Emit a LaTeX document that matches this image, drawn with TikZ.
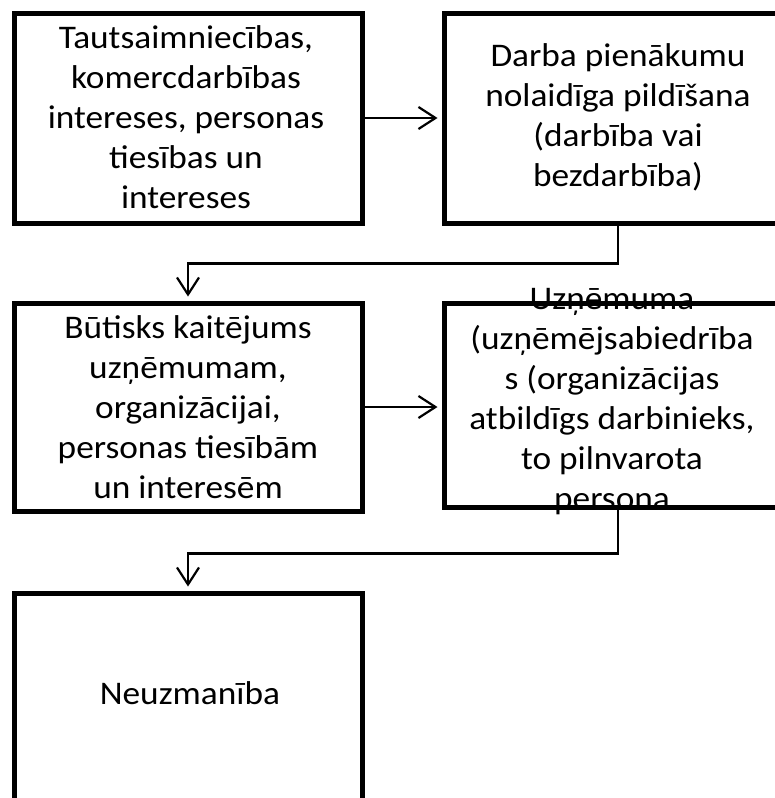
\documentclass[tikz,border=0pt]{standalone}
\usepackage{fontspec}
\setmainfont{Carlito}[FakeStretch=1.07]
\usetikzlibrary{arrows.meta}
\begin{document}
\begin{tikzpicture}[x=1pt,y=-1pt,
 box/.style={draw,line width=5pt,minimum width=348pt,minimum height=210pt,inner sep=0pt},
 txt/.style={align=center,font=\fontsize{33}{40}\selectfont,inner sep=0pt},
 conn/.style={line width=2.2pt,-{Straight Barb[length=17pt,width=22pt,line width=2.2pt]},shorten >=4pt}]
\useasboundingbox (0,0) rectangle (775,798);
\clip (0,0) rectangle (775,798);
\fill[white] (0,0) rectangle (775,798);
\node[box] (A) at (188,118) {};
\node[box] (B) at (618,118) {};
\node[box,minimum height=208pt] (C) at (188,407) {};
\node[box,minimum height=204pt] (D) at (618,405) {};
\node[box] (E) at (188,698) {};
\node[txt] (tA) at (186,117) {Tautsaimniecības,\\komercdarbības\\intereses, personas\\tiesības un\\intereses};
\node[txt] (tB) at (618,117) {Darba pienākumu\\nolaidīga pildīšana\\(darbība vai\\bezdarbība)};
\node[txt] (tC) at (188,407) {Būtisks kaitējums\\uzņēmumam,\\organizācijai,\\personas tiesībām\\un interesēm};
\node[txt] (tD) at (612,402) {Uzņēmuma\\(uzņēmējsabiedrība\\s (organizācijas\\atbildīgs darbinieks,\\to pilnvarota\\persona};
\node[txt] (tE) at (190,693) {Neuzmanība};
\draw[conn] (A.east) -- (B.west |- A.east);
\draw[conn] (C.east) -- (D.west |- C.east);
\draw[conn] (B.south) -- ++(0,38) -| (A.south |- C.north);
\draw[conn] (D.south) -- ++(0,44) -| (C.south |- E.north);
\end{tikzpicture}
\end{document}
